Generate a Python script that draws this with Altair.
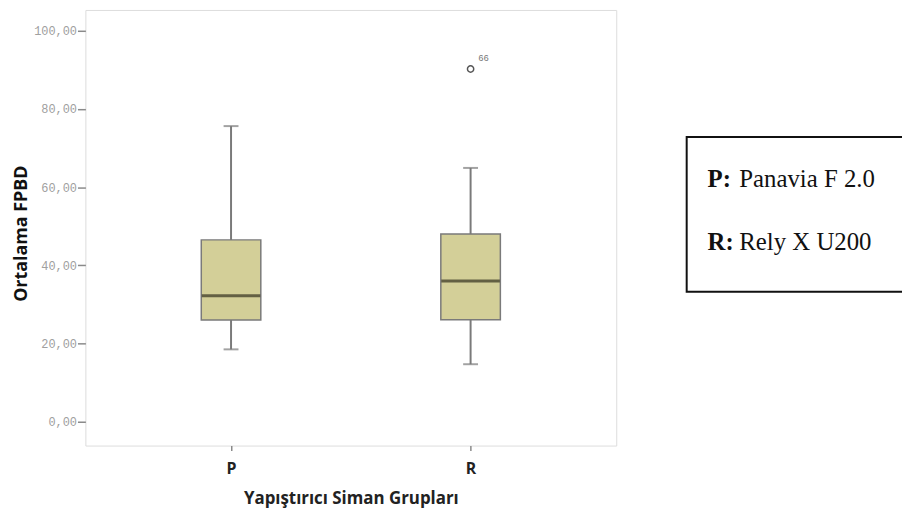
import altair as alt
import pandas as pd

groups = ["P", "R"]
lower_whisker = [18.5, 14.7]
q1 = [26.0, 26.1]
median = [32.2, 36.0]
q3 = [46.5, 48.0]
upper_whisker = [75.6, 64.9]

outlier_group = ["R"]
outlier_value = [90.2]
outlier_label = ["66"]

y_ticks = [0, 20, 40, 60, 80, 100]
legend_keys = ["P:", "R:"]
legend_names = ["Panavia F 2.0", "Rely X U200"]

box_df = pd.DataFrame({"group": groups, "lw": lower_whisker, "q1": q1,
                       "median": median, "q3": q3, "uw": upper_whisker})
out_df = pd.DataFrame({"group": outlier_group, "val": outlier_value, "label": outlier_label})

W, H = 535, 439
yscale = alt.Scale(domain=[-6.1, 105.3], nice=False, zero=False)
xscale = alt.Scale(type="point", padding=0.608)

x_enc = alt.X("group:N", scale=xscale, sort=groups,
              axis=alt.Axis(labelAngle=0, domain=False, grid=False, ticks=True, tickSize=5,
                            tickColor="#8a8a8a", tickWidth=1.5,
                            labelFont="Open Sans", labelFontWeight="bold", labelFontSize=16,
                            labelColor="#222222", labelPadding=10,
                            title="Yapıştırıcı Siman Grupları", titleFont="Open Sans",
                            titleFontWeight="bold", titleFontSize=17, titleColor="#222222",
                            titleY=53, titleBaseline="middle"))

y_axis = alt.Axis(values=y_ticks, labelExpr="replace(format(datum.value, '.2f'), '.', ',')",
                  domain=False, grid=False, tickColor="#8a8a8a", tickSize=8, tickWidth=1.5,
                  labelFont="Liberation Mono", labelFontSize=12, labelColor="#a0a0a0",
                  labelPadding=1, title="Ortalama FPBD", titleFont="Open Sans",
                  titleFontWeight="bold", titleFontSize=18, titleColor="#111111",
                  titleX=-64, titleY=225, titleAngle=270, titleAlign="center",
                  titleBaseline="middle")

base = alt.Chart(box_df)

whisk = base.mark_rule(color="#7a7a7a", strokeWidth=2).encode(
    x=x_enc, y=alt.Y("lw:Q", scale=yscale, axis=y_axis), y2="uw:Q")
box = base.mark_bar(size=60, fill="#D3CF98", stroke="#7a7a7a", strokeWidth=1.5).encode(
    x=alt.X("group:N", scale=xscale, sort=groups), y=alt.Y("q1:Q", scale=yscale), y2="q3:Q")
med = base.mark_tick(size=59, thickness=3, color="#33301f").encode(
    x=alt.X("group:N", scale=xscale, sort=groups), y=alt.Y("median:Q", scale=yscale))
cap_lo = base.mark_tick(size=15, thickness=2, color="#7a7a7a").encode(
    x=alt.X("group:N", scale=xscale, sort=groups), y=alt.Y("lw:Q", scale=yscale))
cap_hi = base.mark_tick(size=15, thickness=2, color="#7a7a7a").encode(
    x=alt.X("group:N", scale=xscale, sort=groups), y=alt.Y("uw:Q", scale=yscale))

out_base = alt.Chart(out_df)
out_pt = out_base.mark_point(shape="circle", size=40, filled=False, color="#555555",
                             strokeWidth=1.5, opacity=1).encode(
    x=alt.X("group:N", scale=xscale, sort=groups), y=alt.Y("val:Q", scale=yscale))
out_txt = out_base.mark_text(dx=13, dy=-11, fontSize=9, color="#777777",
                             font="Liberation Mono").encode(
    x=alt.X("group:N", scale=xscale, sort=groups), y=alt.Y("val:Q", scale=yscale),
    text="label:N")

one = alt.Chart(pd.DataFrame({"k": [0]}))
leg_box = one.mark_rect(fill="white", fillOpacity=0, stroke="#111111", strokeWidth=2).encode(
    x=alt.value(606), x2=alt.value(840), y=alt.value(128), y2=alt.value(284))

legend_layers = []
for i, (k, n) in enumerate(zip(legend_keys, legend_names)):
    d = alt.Chart(pd.DataFrame({"k": [k], "n": [n]}))
    yy = 170 + i * 64
    legend_layers.append(d.mark_text(align="left", baseline="middle", font="Liberation Serif",
                                     fontWeight="bold", fontSize=25, color="#111111").encode(
        x=alt.value(627), y=alt.value(yy), text="k:N"))
    legend_layers.append(d.mark_text(align="left", baseline="middle", font="Liberation Serif",
                                     fontSize=25, color="#111111").encode(
        x=alt.value(659), y=alt.value(yy), text="n:N"))

chart = alt.layer(whisk, box, med, cap_lo, cap_hi, out_pt, out_txt, leg_box, *legend_layers).properties(
    width=W, height=H,
    autosize=alt.AutoSizeParams(type="none"),
    padding={"left": 78, "top": 0, "right": 288, "bottom": 66},
).configure_view(stroke="#9a9a9a", strokeWidth=2, fill="#F0F0F0"
).configure(background="white")

chart.save("out.html", embed_options={"renderer": "svg", "actions": False})
